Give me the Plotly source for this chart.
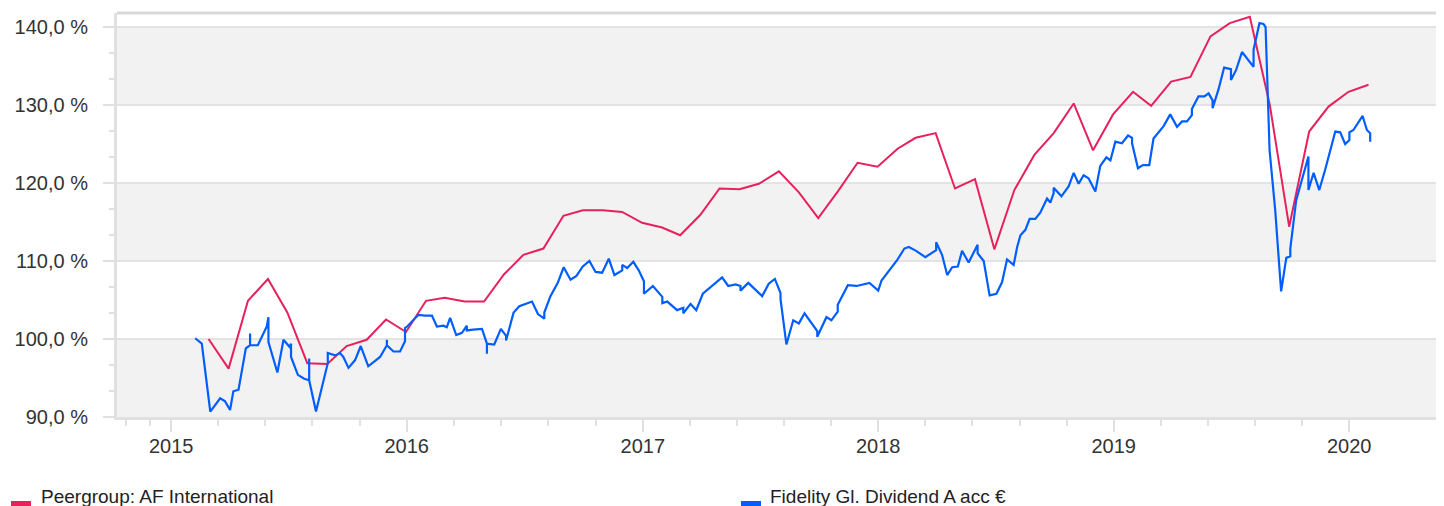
import pandas as pd
import plotly.graph_objects as go

# ---------------- data ----------------
peer_name = "Peergroup: AF International"
fund_name = "Fidelity Gl. Dividend A acc €"

# Peergroup: monthly (month-end) values, Feb 2015 .. Jan 2020
peer_start_month = "2015-02-01"
peer_values = [
    100.0, 96.2, 104.9, 107.7, 103.4, 96.9, 96.8, 99.1, 99.9, 102.5, 100.9,
    104.9, 105.3, 104.8, 104.8, 108.3, 110.8, 111.6, 115.8, 116.5, 116.5, 116.3, 114.9,
    114.3, 113.3, 115.9, 119.3, 119.2, 119.9, 121.5, 118.8, 115.5, 119.0, 122.6, 122.1,
    124.4, 125.8, 126.4, 119.3, 120.5, 111.5, 119.1, 123.6, 126.4, 130.2, 124.2, 128.8,
    131.7, 129.9, 133.0, 133.6, 138.8, 140.5, 141.3, 130.0, 114.4, 126.6, 129.8, 131.7,
    132.6,
]

# Fund: observation times (fractional years) and values
fund_t = [
    2015.102, 2015.130, 2015.166, 2015.208, 2015.229, 2015.250, 2015.264, 2015.286,
    2015.317, 2015.335, 2015.335, 2015.335, 2015.368, 2015.406, 2015.413, 2015.413,
    2015.451, 2015.477, 2015.502, 2015.509, 2015.509, 2015.538, 2015.565, 2015.586,
    2015.586, 2015.586, 2015.615, 2015.665, 2015.665, 2015.696, 2015.717, 2015.731,
    2015.753, 2015.781, 2015.805, 2015.837, 2015.887, 2015.916, 2015.916, 2015.916,
    2015.944, 2015.972, 2015.993, 2015.993, 2016.002, 2016.050, 2016.078, 2016.107,
    2016.128, 2016.156, 2016.170, 2016.184, 2016.210, 2016.234, 2016.255, 2016.255,
    2016.281, 2016.319, 2016.340, 2016.340, 2016.340, 2016.371, 2016.399, 2016.421,
    2016.421, 2016.453, 2016.477, 2016.531, 2016.556, 2016.583, 2016.583, 2016.609,
    2016.640, 2016.665, 2016.694, 2016.719, 2016.746, 2016.774, 2016.800, 2016.828,
    2016.856, 2016.880, 2016.913, 2016.913, 2016.934, 2016.960, 2016.983, 2017.005,
    2017.005, 2017.043, 2017.083, 2017.083, 2017.104, 2017.146, 2017.172, 2017.172,
    2017.203, 2017.227, 2017.255, 2017.337, 2017.363, 2017.394, 2017.415, 2017.415,
    2017.448, 2017.507, 2017.535, 2017.561, 2017.585, 2017.585, 2017.610, 2017.639,
    2017.663, 2017.687, 2017.741, 2017.741, 2017.780, 2017.801, 2017.828, 2017.828,
    2017.871, 2017.908, 2017.963, 2018.000, 2018.014, 2018.080, 2018.111, 2018.130,
    2018.161, 2018.200, 2018.229, 2018.246, 2018.246, 2018.271, 2018.293, 2018.314,
    2018.338, 2018.356, 2018.384, 2018.422, 2018.422, 2018.448, 2018.473, 2018.502,
    2018.526, 2018.547, 2018.575, 2018.590, 2018.604, 2018.625, 2018.643, 2018.667,
    2018.688, 2018.717, 2018.731, 2018.745, 2018.745, 2018.778, 2018.809, 2018.830,
    2018.851, 2018.872, 2018.893, 2018.922, 2018.943, 2018.969, 2018.986, 2019.007,
    2019.035, 2019.061, 2019.078, 2019.078, 2019.103, 2019.124, 2019.151, 2019.169,
    2019.169, 2019.212, 2019.240, 2019.269, 2019.290, 2019.311, 2019.332, 2019.332,
    2019.360, 2019.385, 2019.403, 2019.420, 2019.420, 2019.445, 2019.469, 2019.498,
    2019.498, 2019.520, 2019.545, 2019.594, 2019.594, 2019.619, 2019.636, 2019.645,
    2019.662, 2019.662, 2019.686, 2019.711, 2019.733, 2019.750, 2019.750, 2019.775,
    2019.827, 2019.827, 2019.849, 2019.873, 2019.898, 2019.919, 2019.941, 2019.962,
    2019.983, 2020.001, 2020.001, 2020.018, 2020.057, 2020.075, 2020.089, 2020.089,
]
fund_values = [
    100.1, 99.4, 90.7, 92.4, 92.0, 90.9, 93.3, 93.5,
    98.8, 99.2, 100.7, 99.2, 99.2, 101.6, 102.8, 99.6,
    95.7, 99.9, 99.0, 99.4, 97.7, 95.4, 94.9, 94.7,
    97.5, 94.7, 90.7, 96.9, 98.2, 97.9, 98.2, 97.7,
    96.3, 97.3, 99.1, 96.5, 97.7, 99.2, 99.9, 99.2,
    98.4, 98.4, 99.7, 101.4, 101.6, 103.1, 103.0, 103.0,
    101.6, 101.7, 101.5, 102.7, 100.5, 100.8, 101.7, 101.1,
    101.2, 101.3, 99.4, 98.1, 99.4, 99.3, 101.3, 100.4,
    99.8, 103.4, 104.2, 104.8, 103.2, 102.6, 103.4, 105.5,
    107.2, 109.2, 107.6, 108.1, 109.3, 110.0, 108.6, 108.5,
    110.3, 108.2, 108.8, 109.5, 109.1, 109.9, 108.8, 107.4,
    105.8, 106.8, 105.4, 104.6, 104.8, 103.7, 104.0, 103.3,
    104.5, 103.7, 105.8, 107.9, 106.8, 107.0, 106.8, 106.2,
    107.2, 105.5, 107.1, 107.7, 105.9, 105.1, 99.3, 102.4,
    102.0, 103.3, 101.0, 100.3, 102.8, 102.4, 103.5, 104.4,
    106.9, 106.8, 107.2, 106.2, 107.5, 110.1, 111.6, 111.8,
    111.3, 110.5, 111.0, 111.4, 112.4, 110.8, 108.2, 109.2,
    109.3, 111.3, 109.8, 112.1, 111.0, 110.0, 105.6, 105.8,
    107.3, 110.2, 109.5, 111.8, 113.3, 114.0, 115.4, 115.4,
    116.2, 118.0, 117.5, 118.7, 119.4, 118.3, 119.6, 121.3,
    119.9, 121.0, 120.6, 118.9, 122.2, 123.3, 122.9, 125.3,
    125.1, 126.1, 125.8, 125.1, 121.9, 122.3, 122.3, 125.3,
    125.7, 127.3, 128.8, 127.2, 127.9, 127.9, 128.7, 129.5,
    131.1, 131.1, 131.5, 130.6, 129.6, 132.0, 134.8, 134.6,
    133.2, 134.5, 136.8, 134.9, 137.1, 140.5, 140.4, 140.0,
    125.7, 124.2, 116.5, 106.1, 110.4, 110.6, 111.6, 117.8,
    123.4, 119.1, 121.3, 119.1, 121.7, 124.2, 126.6, 126.5,
    125.0, 125.5, 126.5, 126.8, 128.6, 126.8, 126.4, 125.3,
]

y_ticks = [90, 100, 110, 120, 130, 140]
y_tick_text = ["90,0 %", "100,0 %", "110,0 %", "120,0 %", "130,0 %", "140,0 %"]
band_ranges = [(90, 100), (110, 120), (130, 140)]
x_range = ["2014-10-09", "2020-05-27"]
year_ticks = ["2015-01-01", "2016-01-01", "2017-01-01", "2018-01-01", "2019-01-01", "2020-01-01"]
year_labels = ["2015", "2016", "2017", "2018", "2019", "2020"]
minor_fracs = [2014.81, 2014.91] + [y + k / 5 for y in range(2015, 2020) for k in range(1, 5)]

# ---------------- helpers ----------------
def frac_to_date(t):
    y = int(t)
    start = pd.Timestamp(year=y, month=1, day=1)
    end = pd.Timestamp(year=y + 1, month=1, day=1)
    return start + (end - start) * (t - y)

peer_dates = pd.date_range(peer_start_month, periods=len(peer_values), freq="MS") + pd.offsets.MonthEnd(0)
fund_dates = [frac_to_date(t) for t in fund_t]
minor_dates = [frac_to_date(t) for t in minor_fracs]

RED = "#e6215c"
BLUE = "#005eff"
AXIS = "#e0e0e0"
SANS = "Liberation Sans, Arial, Helvetica, sans-serif"

fig = go.Figure()
fig.add_trace(go.Scatter(x=peer_dates, y=peer_values, mode="lines", name=peer_name,
                         line=dict(color=RED, width=2), showlegend=False))
fig.add_trace(go.Scatter(x=fund_dates, y=fund_values, mode="lines", name=fund_name,
                         line=dict(color=BLUE, width=2.2), showlegend=False))

shapes = []
for lo, hi in band_ranges:
    shapes.append(dict(type="rect", xref="paper", yref="y", x0=0, x1=1, y0=lo, y1=hi,
                       fillcolor="#f2f2f2", line=dict(width=0), layer="below"))
# top border
shapes.append(dict(type="line", xref="paper", yref="paper", x0=0, x1=1, y0=1, y1=1,
                   line=dict(color="#d9d9d9", width=3)))
# legend swatches
shapes.append(dict(type="rect", xref="paper", yref="paper", x0=-0.0799, x1=-0.0648,
                   y0=-0.2203, y1=-0.2079, fillcolor=RED, line=dict(width=0)))
shapes.append(dict(type="rect", xref="paper", yref="paper", x0=0.4702, x1=0.4853,
                   y0=-0.2203, y1=-0.2079, fillcolor=BLUE, line=dict(width=0)))

annotations = [
    dict(text=peer_name, xref="paper", yref="paper", x=-0.0588, y=-0.166, xanchor="left",
         yanchor="top", showarrow=False, font=dict(family=SANS, size=19, color="#222")),
    dict(text=fund_name, xref="paper", yref="paper", x=0.4906, y=-0.166, xanchor="left",
         yanchor="top", showarrow=False, font=dict(family=SANS, size=19, color="#222")),
]

# the page body adds an 8px offset; figure is sized so the plot area lands at 117..1444 x 13..417
fig.update_layout(
    width=1436, height=498,
    margin=dict(l=109, r=0, t=5, b=89),
    paper_bgcolor="white", plot_bgcolor="white",
    shapes=shapes, annotations=annotations,
    xaxis=dict(
        type="date", range=x_range,
        tickmode="array", tickvals=year_ticks, ticktext=year_labels,
        ticks="outside", ticklen=12, tickwidth=2, tickcolor=AXIS,
        showline=True, linecolor=AXIS, linewidth=3,
        showgrid=False, zeroline=False,
        tickfont=dict(family=SANS, size=20, color="#333"),
        ticklabelstandoff=-3,
        minor=dict(tickmode="array", tickvals=minor_dates, ticks="outside",
                   ticklen=6, tickwidth=2, tickcolor=AXIS, showgrid=False),
    ),
    yaxis=dict(
        range=[90, 141.8],
        tickmode="array", tickvals=y_ticks, ticktext=y_tick_text,
        ticks="outside", ticklen=11, tickwidth=2, tickcolor=AXIS,
        showline=True, linecolor=AXIS, linewidth=3,
        showgrid=True, gridcolor="#e3e3e3", gridwidth=2,
        zeroline=False,
        tickfont=dict(family=SANS, size=20, color="#333"),
        ticklabelstandoff=11,
        minor=dict(tick0=90, dtick=10 / 3, ticks="outside", ticklen=5,
                   tickwidth=2, tickcolor=AXIS, showgrid=False),
    ),
)

fig.write_html("out.html")
